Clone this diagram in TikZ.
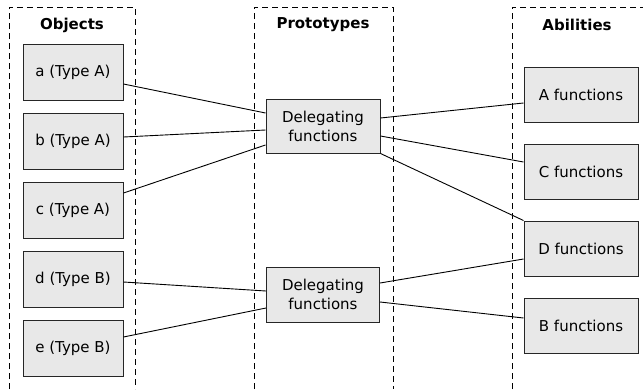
\documentclass[tikz,border=0pt]{standalone}
\usepackage{fontspec}
\setmainfont{DejaVu Sans}
\begin{document}
\begin{tikzpicture}[x=1pt,y=-1pt,
  box/.style={draw=black!85,line width=1pt,fill=black!9,minimum width=100pt,minimum height=56pt,font=\fontsize{15}{19}\selectfont,inner sep=0pt,align=center},
  fbox/.style={box,minimum width=114pt,minimum height=55pt},
  frame/.style={draw=black,line width=0.9pt,dash pattern=on 6pt off 4pt},
  ttl/.style={font=\bfseries\fontsize{15}{18}\selectfont},
  link/.style={draw=black,line width=0.9pt}]
\useasboundingbox (0,0) rectangle (643,389);
% frames
\draw[frame] (9,389) -- (9,7) -- (135,7) -- (135,389);
\draw[frame] (254,389) -- (254,7) -- (393,7) -- (393,389);
\draw[frame] (512,389) -- (512,7) -- (650,7);
\node[ttl] (t1) at (72,25) {Objects};
\node[ttl] (t2) at (323,25) {Prototypes};
\node[ttl] (t3) at (577,25) {Abilities};
% objects
\node[box] (a) at (73,72) {a (Type A)};
\node[box] (b) at (73,141.5) {b (Type A)};
\node[box] (c) at (73,210) {c (Type A)};
\node[box] (d) at (73,279.5) {d (Type B)};
\node[box] (e) at (73,348.5) {e (Type B)};
% prototypes
\node[fbox,minimum height=54pt] (p1) at (323,126) {Delegating\\functions};
\node[fbox,minimum width=113pt] (p2) at (323,294.5) {Delegating\\functions};
% abilities
\node[fbox] (fa) at (581,95) {A functions};
\node[fbox] (fc) at (581,171.5) {C functions};
\node[fbox] (fd) at (581,248.5) {D functions};
\node[fbox] (fb) at (581,325.5) {B functions};
% links
\draw[link] ([yshift=-12pt]a.east) -- ([yshift=13pt]p1.west);
\draw[link] ([yshift=4.5pt]b.east) -- ([yshift=-4pt]p1.west);
\draw[link] ([yshift=17pt]c.east) -- ([yshift=-19pt]p1.west);
\draw[link] ([yshift=-2.5pt]d.east) -- ([yshift=3.5pt]p2.west);
\draw[link] ([yshift=11.5pt]e.east) -- ([yshift=-13.5pt]p2.west);
\draw[link] ([yshift=8pt]p1.east) -- ([yshift=-8pt]fa.west);
\draw[link] ([yshift=-10pt]p1.east) -- ([yshift=9.5pt]fc.west);
\draw[link] (p1.south east) -- (fd.north west);
\draw[link] ([yshift=11.5pt]p2.east) -- ([yshift=-10.5pt]fd.west);
\draw[link] ([yshift=-7.5pt]p2.east) -- ([yshift=7.5pt]fb.west);
\end{tikzpicture}
\end{document}
